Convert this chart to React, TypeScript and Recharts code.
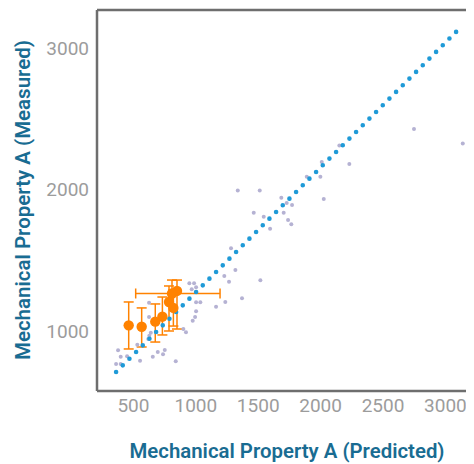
import React from 'react';
import { ScatterChart, Scatter, XAxis, YAxis, ErrorBar, ReferenceLine } from 'recharts';

const xTicks = [500, 1000, 1500, 2000, 2500, 3000];
const yTicks = [1000, 2000, 3000];

const grayX = [948, 986, 1002, 967, 1228, 1266, 1317, 1370, 1236, 1162, 1002, 1036, 1002, 994, 975, 900, 921, 625, 625, 639, 627, 619, 531, 377, 398, 449, 361, 398, 553, 655, 695, 751, 737, 839, 1336, 1512, 1889, 1998, 1685, 1728, 1771, 1704, 2025, 1464, 1544, 1739, 1765, 1595, 1282, 1517, 2150, 2748, 3139, 2009, 2230];
const grayY = [1337, 1337, 1309, 1295, 1389, 1348, 1431, 1231, 1205, 1172, 1203, 1203, 1139, 1099, 1073, 1014, 991, 1200, 1099, 988, 967, 943, 903, 864, 818, 821, 767, 767, 790, 818, 852, 866, 835, 786, 1992, 1992, 2090, 2090, 1942, 1905, 1890, 1836, 1933, 1836, 1808, 1784, 1754, 1723, 1584, 1358, 2310, 2428, 2324, 2194, 2180];

const lineX = [361, 3117];
const lineY = [710, 3141];

const orangeX = [462, 566, 675, 732, 785, 820, 849];
const orangeY = [1040, 1030, 1066, 1101, 1205, 1163, 1283];
const orangeYLow = [873, 887, 922, 972, 1000, 1035, 1014];
const orangeYHigh = [1205, 1163, 1191, 1240, 1318, 1290, 1360];

const wideX = [809];
const wideY = [1265];
const wideXLow = [518];
const wideXHigh = [1194];
const wideYLow = [1180];
const wideYHigh = [1360];

const grayData = grayX.map((x, i) => ({ x, y: grayY[i] }));
const lineData = lineX.map((x, i) => ({ x, y: lineY[i] }));
const orangeData = orangeX.map((x, i) => ({
  x,
  y: orangeY[i],
  ey: [orangeY[i] - orangeYLow[i], orangeYHigh[i] - orangeY[i]],
}));
const wideData = wideX.map((x, i) => ({
  x,
  y: wideY[i],
  ex: [x - wideXLow[i], wideXHigh[i] - x],
  ey: [wideY[i] - wideYLow[i], wideYHigh[i] - wideY[i]],
}));

const GRAY = '#b5b2d3';
const BLUE = '#1f9ad7';
const ORANGE = '#ff8200';
const AXIS = '#6e6e6e';
const LABEL = '#196c92';
const TICK = '#9c9c9c';
const FONT = 'Roboto, "Noto Sans", sans-serif';

const grayShape = (p: any) => <circle cx={p.cx} cy={p.cy} r={2} fill={GRAY} />;
const orangeShape = (p: any) => <circle cx={p.cx} cy={p.cy} r={5.2} fill={ORANGE} />;
const noShape = () => <g />;

export default function App() {
  return (
    <ScatterChart
      width={466}
      height={456}
      margin={{ top: 2, right: 0, bottom: 0, left: 0 }}
    >
      <XAxis
        type="number"
        dataKey="x"
        domain={[208, 3229]}
        allowDataOverflow
        ticks={xTicks}
        tickLine={false}
        axisLine={{ stroke: AXIS, strokeWidth: 2.5 }}
        height={73}
        tick={{ fill: TICK, fontSize: 19, fontFamily: FONT }}
        label={{
          content: () => (
            <text
              x={279}
              y={450}
              textAnchor="middle"
              fill={LABEL}
              fontSize={21}
              fontWeight={600}
              fontFamily={FONT}
              textLength={315}
              lengthAdjust="spacingAndGlyphs"
            >
              Mechanical Property A (Predicted)
            </text>
          ),
        }}
      />
      <YAxis
        type="number"
        dataKey="y"
        domain={[576, 3268]}
        allowDataOverflow
        ticks={yTicks}
        tickLine={false}
        axisLine={{ stroke: AXIS, strokeWidth: 2.5 }}
        width={89}
        tick={{ fill: TICK, fontSize: 19, fontFamily: FONT }}
        label={{
          content: () => (
            <text
              transform="translate(22,192) rotate(-90)"
              x={0}
              y={0}
              textAnchor="middle"
              fill={LABEL}
              fontSize={21}
              fontWeight={600}
              fontFamily={FONT}
              textLength={320}
              lengthAdjust="spacingAndGlyphs"
            >
              Mechanical Property A (Measured)
            </text>
          ),
        }}
      />
      <ReferenceLine y={3268} stroke={AXIS} strokeWidth={2.5} />
      <Scatter data={grayData} shape={grayShape} isAnimationActive={false} />
      <Scatter
        data={lineData}
        shape={noShape}
        isAnimationActive={false}
        line={{ stroke: BLUE, strokeWidth: 4.6, strokeDasharray: '0 9.43', strokeLinecap: 'round' }}
        fill={BLUE}
      />
      <Scatter data={orangeData} shape={orangeShape} isAnimationActive={false}>
        <ErrorBar dataKey="ey" direction="y" stroke={ORANGE} strokeWidth={1.5} width={5} />
      </Scatter>
      <Scatter data={wideData} shape={orangeShape} isAnimationActive={false}>
        <ErrorBar dataKey="ex" direction="x" stroke={ORANGE} strokeWidth={1.5} width={5} />
        <ErrorBar dataKey="ey" direction="y" stroke={ORANGE} strokeWidth={1.5} width={5} />
      </Scatter>
    </ScatterChart>
  );
}
